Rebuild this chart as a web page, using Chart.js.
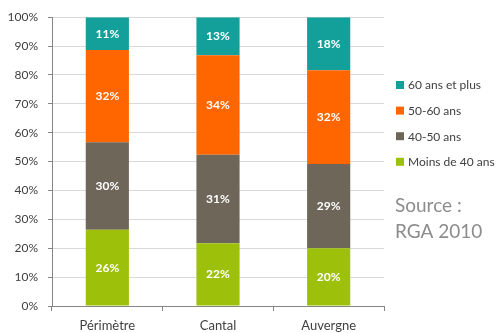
<!DOCTYPE html>
<html>
<head>
<meta charset="utf-8">
<script src="https://cdn.jsdelivr.net/npm/chart.js@4.4.1/dist/chart.umd.min.js"></script>
<style>
  html, body { margin: 0; padding: 0; background: #fff; }
  #wrap { width: 504px; height: 333px; position: relative; }
</style>
</head>
<body>
<div id="wrap"><canvas id="chart"></canvas></div>
<script>
const categories = ["Périmètre", "Cantal", "Auvergne"];
const yTicks = [0, 10, 20, 30, 40, 50, 60, 70, 80, 90, 100];

const moins40 = [26.4, 21.7, 20.0];
const ans40_50 = [30.3, 30.7, 29.2];
const ans50_60 = [31.9, 34.4, 32.4];
const plus60 = [11.4, 13.2, 18.4];

const sourceLines = ["Source :", "RGA 2010"];

const FONT = "Lato, 'Open Sans', sans-serif";

/* labels inside each segment */
const segmentLabels = {
    id: "segmentLabels",
    afterDatasetsDraw(chart) {
        const ctx = chart.ctx;
        ctx.save();
        ctx.fillStyle = "#ffffff";
        ctx.font = "bold 12px " + FONT;
        ctx.textAlign = "center";
        ctx.textBaseline = "middle";
        chart.data.datasets.forEach((ds, i) => {
            chart.getDatasetMeta(i).data.forEach((bar, j) => {
                let mid = (bar.y + bar.base) / 2;
                ctx.fillText(Math.round(ds.data[j]) + "%", bar.x, mid);
            });
        });
        ctx.restore();
    }
};

/* legend + source text on the right */
const sideLegend = {
    id: "sideLegend",
    afterDraw(chart) {
        const ctx = chart.ctx;
        ctx.save();
        ctx.textBaseline = "middle";
        ctx.font = "12px " + FONT;
        let items = chart.data.datasets.slice().reverse();
        items.forEach((ds, k) => {
            let y = 85 + k * 25.6;
            ctx.fillStyle = ds.backgroundColor;
            ctx.fillRect(396, y - 4, 8, 8);
            ctx.fillStyle = "#404040";
            ctx.textAlign = "left";
            ctx.fillText(ds.label, 408, y + 0.5);
        });
        ctx.font = "19px " + FONT;
        ctx.fillStyle = "#8c8c8c";
        sourceLines.forEach((t, k) => {
            ctx.fillText(t, 395, 206 + k * 26);
        });
        ctx.restore();
    }
};

new Chart(document.getElementById("chart"), {
    type: "bar",
    data: {
        labels: categories,
        datasets: [
            { label: "Moins de 40 ans", data: moins40, backgroundColor: "#9dc10b" },
            { label: "40-50 ans", data: ans40_50, backgroundColor: "#6f665a" },
            { label: "50-60 ans", data: ans50_60, backgroundColor: "#ff6600" },
            { label: "60 ans et plus", data: plus60, backgroundColor: "#14a09a" }
        ]
    },
    options: {
        responsive: true,
        maintainAspectRatio: false,
        animation: false,
        layout: { padding: { left: 0, right: 120, top: 17, bottom: 0 } },
        datasets: { bar: { categoryPercentage: 1, barPercentage: 0.39 } },
        plugins: {
            legend: { display: false },
            tooltip: { enabled: false }
        },
        scales: {
            x: {
                stacked: true,
                afterFit: s => { s.height = 27; },
                grid: { drawOnChartArea: false, drawTicks: true, tickLength: 5, tickColor: "#868686" },
                border: { color: "#868686" },
                ticks: { color: "#404040", font: { family: FONT, size: 13 }, padding: 7 }
            },
            y: {
                stacked: true,
                min: 0,
                max: 100,
                afterFit: s => { s.width = 52; },
                afterBuildTicks: s => { s.ticks = yTicks.map(v => ({ value: v })); },
                grid: { color: "#d9d9d9", tickLength: 4, tickColor: "#868686" },
                border: { color: "#868686" },
                ticks: {
                    color: "#404040",
                    font: { family: FONT, size: 12 },
                    padding: 10,
                    callback: v => v + "%"
                }
            }
        }
    },
    plugins: [segmentLabels, sideLegend]
});
</script>
</body>
</html>
